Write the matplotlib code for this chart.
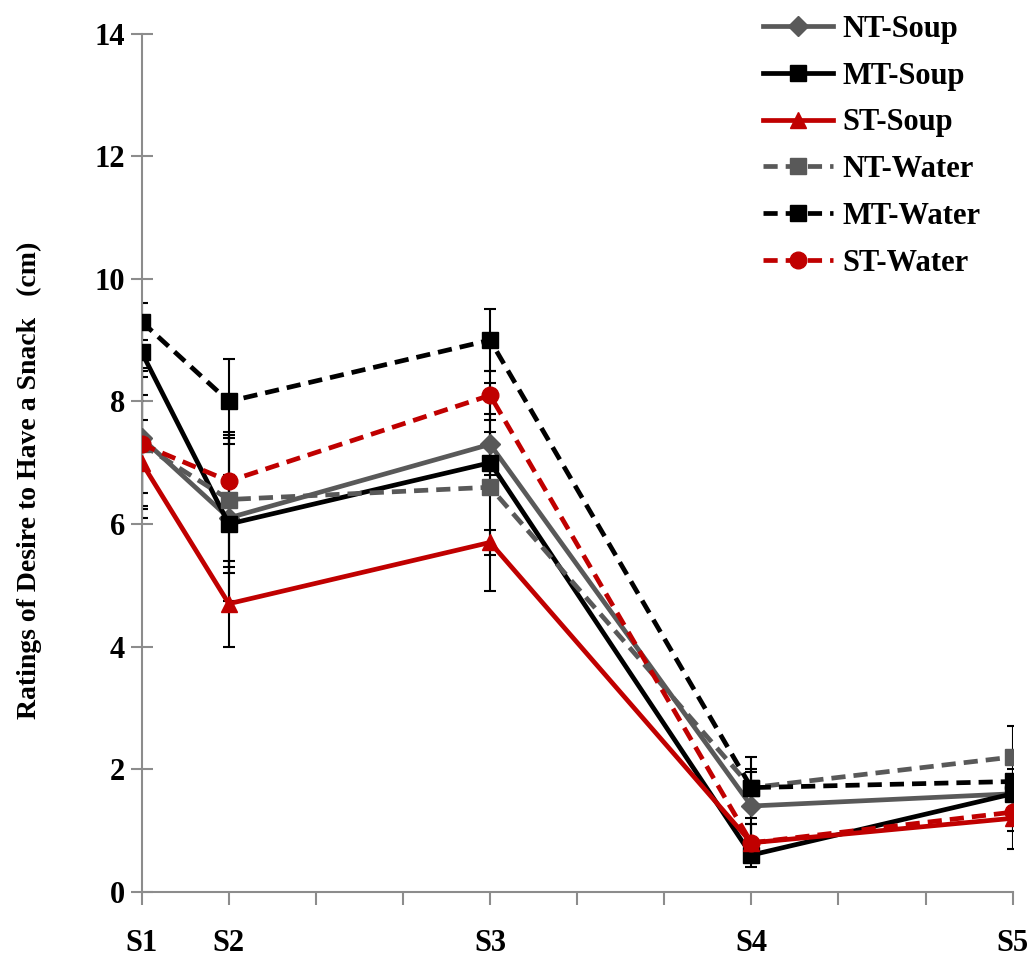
import numpy as np
import matplotlib.pyplot as plt

plt.rcParams['font.family'] = ['Liberation Serif', 'DejaVu Serif']
plt.rcParams['font.weight'] = 'bold'

# time points (session positions along the x axis)
x_pos = [0, 1, 4, 7, 10]
x_labels = ['S1', 'S2', 'S3', 'S4', 'S5']

nt_soup = [7.4, 6.1, 7.3, 1.4, 1.6]
mt_soup = [8.8, 6.0, 7.0, 0.6, 1.6]
st_soup = [7.0, 4.7, 5.7, 0.8, 1.2]
nt_water = [7.3, 6.4, 6.6, 1.7, 2.2]
mt_water = [9.3, 8.0, 9.0, 1.7, 1.8]
st_water = [7.3, 6.7, 8.1, 0.8, 1.3]

nt_soup_err = [1.15, 1.35, 0.5, 0.55, 0.3]
mt_soup_err = [0.4, 0.8, 0.5, 0.2, 0.3]
st_soup_err = [0.7, 0.7, 0.2, 0.3, 0.5]
nt_water_err = [0.8, 1.1, 1.7, 0.3, 0.5]
mt_water_err = [0.3, 0.7, 0.5, 0.5, 0.2]
st_water_err = [1.2, 0.7, 0.4, 0.3, 0.3]

grey = '#595959'
red = '#C00000'
dash = (0, (3.0, 1.7))

series = [
    ('NT-Soup', nt_soup, nt_soup_err, grey, '-', 'D', 10),
    ('MT-Soup', mt_soup, mt_soup_err, 'black', '-', 's', 12),
    ('ST-Soup', st_soup, st_soup_err, red, '-', '^', 12),
    ('NT-Water', nt_water, nt_water_err, grey, dash, 's', 12),
    ('MT-Water', mt_water, mt_water_err, 'black', dash, 's', 12),
    ('ST-Water', st_water, st_water_err, red, dash, 'o', 12),
]

fig = plt.figure(figsize=(10.27, 9.6), dpi=100)
ax = fig.add_axes([0.138, 0.071, 0.848, 0.894])

# error bars first so the lines and markers sit on top
for name, vals, err, col, ls, mk, ms in series:
    ax.errorbar(x_pos, vals, yerr=err, fmt='none', ecolor='black',
                elinewidth=1.5, capsize=4.5, capthick=1.5, zorder=2)
for name, vals, err, col, ls, mk, ms in series:
    ax.plot(x_pos, vals, color=col, linestyle=ls, linewidth=3.4, marker=mk,
            markersize=ms, markerfacecolor=col, markeredgecolor=col,
            label=name, zorder=3)

ax.set_xlim(0, 10)
ax.set_ylim(0, 14)
ax.set_yticks(np.arange(0, 15, 2))
ax.set_xticks(range(11))
ax.set_xticklabels([x_labels[x_pos.index(i)] if i in x_pos else '' for i in range(11)])

for s in ['top', 'right']:
    ax.spines[s].set_visible(False)
for s in ['left', 'bottom']:
    ax.spines[s].set_color('#8c8c8c')
    ax.spines[s].set_linewidth(1.5)
ax.tick_params(axis='y', direction='inout', length=16, width=1.5, color='#8c8c8c',
               labelsize=22, pad=4)
ax.tick_params(axis='x', direction='out', length=9, width=1.5, color='#8c8c8c',
               labelsize=22, pad=18)
for lab in ax.get_xticklabels() + ax.get_yticklabels():
    lab.set_fontweight('bold')

ax.set_ylabel('Ratings of Desire to Have a Snack   (cm)', fontsize=20,
              fontweight='bold')
ax.yaxis.set_label_coords(-0.115, 0.48)

leg = ax.legend(loc='upper left', bbox_to_anchor=(0.699, 1.036), frameon=False,
                handlelength=2.3, labelspacing=0.58, handletextpad=0.3,
                borderaxespad=0, prop={'weight': 'bold', 'size': 22})

fig.savefig('out.png', dpi=100)
